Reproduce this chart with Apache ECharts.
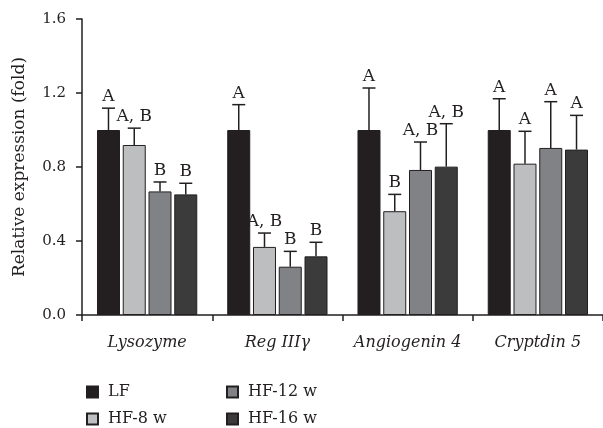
<!DOCTYPE html>
<html>
<head>
<meta charset="utf-8">
<script src="https://cdn.jsdelivr.net/npm/echarts@6/dist/echarts.min.js"></script>
<style>
html,body{margin:0;padding:0;background:#fff;}
#chart{width:603px;height:428px;}
</style>
</head>
<body>
<div id="chart"></div>
<script>
// ---- data ----
const categories = ['Lysozyme', 'Reg IIIγ', 'Angiogenin 4', 'Cryptdin 5'];
const seriesNames = ['LF', 'HF-8 w', 'HF-12 w', 'HF-16 w'];
const lfValues   = [1.00, 1.00, 1.00, 1.00];
const lfErrors   = [0.118, 0.137, 0.227, 0.169];
const hf8Values  = [0.919, 0.368, 0.561, 0.818];
const hf8Errors  = [0.091, 0.075, 0.091, 0.175];
const hf12Values = [0.668, 0.261, 0.784, 0.903];
const hf12Errors = [0.051, 0.083, 0.151, 0.250];
const hf16Values = [0.652, 0.317, 0.802, 0.894];
const hf16Errors = [0.060, 0.076, 0.232, 0.185];
const lfLetters   = ['A', 'A', 'A', 'A'];
const hf8Letters  = ['A, B', 'A, B', 'B', 'A'];
const hf12Letters = ['B', 'B', 'A, B', 'A'];
const hf16Letters = ['B', 'B', 'A, B', 'A'];
const yTicks = [0, 0.4, 0.8, 1.2, 1.6];

// ---- styling ----
const colors = ['#231f20', '#bcbec0', '#808285', '#3b3b3c'];
const FONT = '"DejaVu Serif", "Liberation Serif", serif';
const INK = '#231f20';
const BAR_W = 23;
const BAR_GAP = 0.12;

const allValues = [lfValues, hf8Values, hf12Values, hf16Values];
const allErrors = [lfErrors, hf8Errors, hf12Errors, hf16Errors];
const allLetters = [lfLetters, hf8Letters, hf12Letters, hf16Letters];

const stride = BAR_W * (1 + BAR_GAP);

const barSeries = seriesNames.map((name, i) => ({
  name: name,
  type: 'bar',
  data: allValues[i],
  barWidth: BAR_W,
  barGap: (BAR_GAP * 100) + '%',
  itemStyle: { color: colors[i], borderColor: INK, borderWidth: 1 },
  emphasis: { disabled: true },
  z: 2
}));

const errSeries = seriesNames.map((name, i) => ({
  name: name + '-err',
  type: 'custom',
  silent: true,
  z: 3,
  data: categories.map((c, k) => [k, allValues[i][k], allValues[i][k] + allErrors[i][k]]),
  renderItem: function (params, api) {
    const k = api.value(0);
    const base = api.coord([k, api.value(1)]);
    const top = api.coord([k, api.value(2)]);
    const cx = base[0] + (i - 1.5) * stride;
    const capHalf = 6.5;
    return {
      type: 'group',
      children: [
        { type: 'line', shape: { x1: cx, y1: base[1], x2: cx, y2: top[1] },
          style: { stroke: INK, lineWidth: 1.5 } },
        { type: 'line', shape: { x1: cx - capHalf, y1: top[1], x2: cx + capHalf, y2: top[1] },
          style: { stroke: INK, lineWidth: 1.5 } },
        { type: 'text', x: cx, y: top[1] - 3,
          style: { text: allLetters[i][params.dataIndex], align: 'center', verticalAlign: 'bottom',
                   fill: INK, fontSize: 17, fontFamily: FONT } }
      ]
    };
  }
}));

const legendBase = {
  orient: 'vertical', top: 379, height: 80,
  icon: 'rect', itemWidth: 11, itemHeight: 11, itemGap: 11, selectedMode: false,
  textStyle: { fontFamily: FONT, fontSize: 16, lineHeight: 16, color: INK, padding: [0, 0, 0, 5] }
};

const chart = echarts.init(document.getElementById('chart'), null, { renderer: 'canvas' });
chart.setOption({
  animation: false,
  backgroundColor: '#ffffff',
  textStyle: { fontFamily: FONT, color: INK },
  grid: { left: 82, top: 19, bottom: 113, right: -3, containLabel: false },
  legend: [
    Object.assign({}, legendBase, { data: [seriesNames[0], seriesNames[1]], left: 81 }),
    Object.assign({}, legendBase, { data: [seriesNames[2], seriesNames[3]], left: 221 })
  ],
  xAxis: {
    type: 'category',
    data: categories,
    axisLine: { lineStyle: { color: INK, width: 1.5 } },
    axisTick: { show: true, length: 6, lineStyle: { color: INK, width: 1.5 } },
    axisLabel: { interval: 0, fontFamily: FONT, fontStyle: 'italic', fontSize: 16, color: INK, margin: 20 }
  },
  yAxis: {
    type: 'value',
    min: yTicks[0],
    max: yTicks[yTicks.length - 1],
    interval: yTicks[1] - yTicks[0],
    name: 'Relative expression (fold)',
    nameLocation: 'middle',
    nameGap: 54,
    nameTextStyle: { fontFamily: FONT, fontSize: 17, color: INK },
    splitLine: { show: false },
    axisLine: { show: true, lineStyle: { color: INK, width: 1.5 } },
    axisTick: { show: true, length: 6, lineStyle: { color: INK, width: 1.5 } },
    axisLabel: { fontFamily: FONT, fontSize: 15, color: INK, margin: 16,
                 formatter: v => v.toFixed(1) }
  },
  series: barSeries.concat(errSeries)
});
</script>
</body>
</html>
